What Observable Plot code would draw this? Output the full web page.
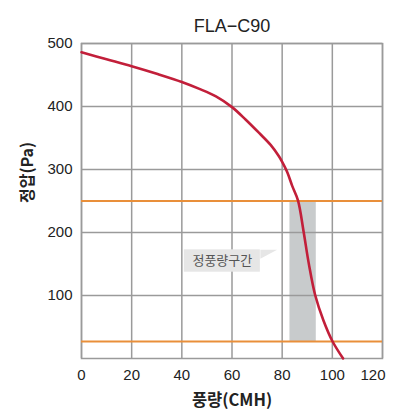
<!DOCTYPE html>
<html>
<head>
<meta charset="utf-8">
<script src="https://cdn.jsdelivr.net/npm/d3@7"></script>
<script src="https://cdn.jsdelivr.net/npm/@observablehq/plot@0.6"></script>
<style>
  html, body { margin: 0; padding: 0; background: #fff; }
  #chart svg { display: block; font-family: "Liberation Sans", Arial, "Noto Sans CJK KR", sans-serif; }
</style>
</head>
<body>
<div id="chart"></div>
<script>
const title = "FLA\u2212C90";
const xLabel = "풍량(CMH)";
const yLabel = "정압(Pa)";
const bandLabel = "정풍량구간";

const xTicks = [0, 20, 40, 60, 80, 100, 120];
const yTicks = [100, 200, 300, 400, 500];

// fan curve (flow CMH, pressure Pa)
const flow = [0, 10, 20, 30, 40, 47, 53.6, 60, 65.5, 70.8, 75.4, 78.7, 80, 82, 84, 86.3, 88.6, 90.6, 93.2, 96.5, 100.1, 104.3];
const pressure = [486, 475, 464, 452, 439, 428, 416, 399, 379, 358, 339, 321, 312, 296, 274, 251, 200, 151, 100, 60, 27, 0];

// constant flow limits
const limitLines = [250, 27];
const bandFlow = [83.1, 93.6];
const bandPressure = [27, 250];

// label bubble (data coords)
const boxX = [41.0, 71.3];
const boxY = [137, 172.5];
const tailX = [71.3, 78.0, 71.3];
const tailY = [172.5, 172.5, 158.2];

const curve = flow.map((f, i) => ({x: f, y: pressure[i]}));
const tail = tailX.map((t, i) => ({x: t, y: tailY[i]}));
const lastTick = xTicks[xTicks.length - 1];

const chart = Plot.plot({
  width: 393,
  height: 419,
  marginTop: 43,
  marginLeft: 81,
  marginRight: 11,
  marginBottom: 61,
  style: {fontSize: "15px", color: "#222"},
  x: {domain: [0, 120]},
  y: {domain: [0, 500]},
  marks: [
    Plot.rect([{}], {x1: bandFlow[0], x2: bandFlow[1], y1: bandPressure[0], y2: bandPressure[1], fill: "#c8cbcc"}),
    Plot.gridX(xTicks, {stroke: "#9a9a9a", strokeOpacity: 1, strokeWidth: 1.5}),
    Plot.gridY(yTicks, {stroke: "#9a9a9a", strokeOpacity: 1, strokeWidth: 1.5}),
    Plot.frame({stroke: "#9a9a9a", strokeWidth: 1.5}),
    Plot.ruleY(limitLines, {stroke: "#e98f3a", strokeWidth: 2.2}),
    Plot.line(curve, {x: "x", y: "y", stroke: "#c21f3a", strokeWidth: 2.6, curve: "catmull-rom"}),
    Plot.rect([{}], {x1: boxX[0], x2: boxX[1], y1: boxY[0], y2: boxY[1], fill: "#e6e6e6"}),
    Plot.line(tail, {x: "x", y: "y", fill: "#e6e6e6", stroke: null}),
    Plot.text([bandLabel], {x: (boxX[0] + boxX[1]) / 2, y: (boxY[0] + boxY[1]) / 2, text: d => d, fill: "#555", fontSize: 13, fontFamily: "Noto Sans CJK KR"}),
    Plot.axisX(xTicks.filter(t => t !== lastTick), {tickSize: 0, tickPadding: 11, label: null, fontSize: 15, fill: "#222"}),
    Plot.axisX([lastTick], {tickSize: 0, tickPadding: 11, label: null, fontSize: 15, fill: "#222", textAnchor: "end", dx: 3}),
    Plot.axisY(yTicks, {tickSize: 0, tickPadding: 9, label: null, fontSize: 15, fill: "#222"}),
    Plot.text([title], {frameAnchor: "top", dy: -24, text: d => d, fontSize: 18, fill: "#222", fontFamily: "Liberation Sans, Arial"}),
    Plot.text([xLabel], {frameAnchor: "bottom", dy: 47, text: d => d, fontSize: 16.5, fontWeight: "bold", fill: "#222", fontFamily: "Noto Sans CJK KR"}),
    Plot.text([yLabel], {frameAnchor: "left", dx: -54, dy: 2, rotate: -90, text: d => d, fontSize: 16, fontWeight: "bold", fill: "#222", fontFamily: "Noto Sans CJK KR"})
  ]
});
document.getElementById("chart").appendChild(chart);
</script>
</body>
</html>
